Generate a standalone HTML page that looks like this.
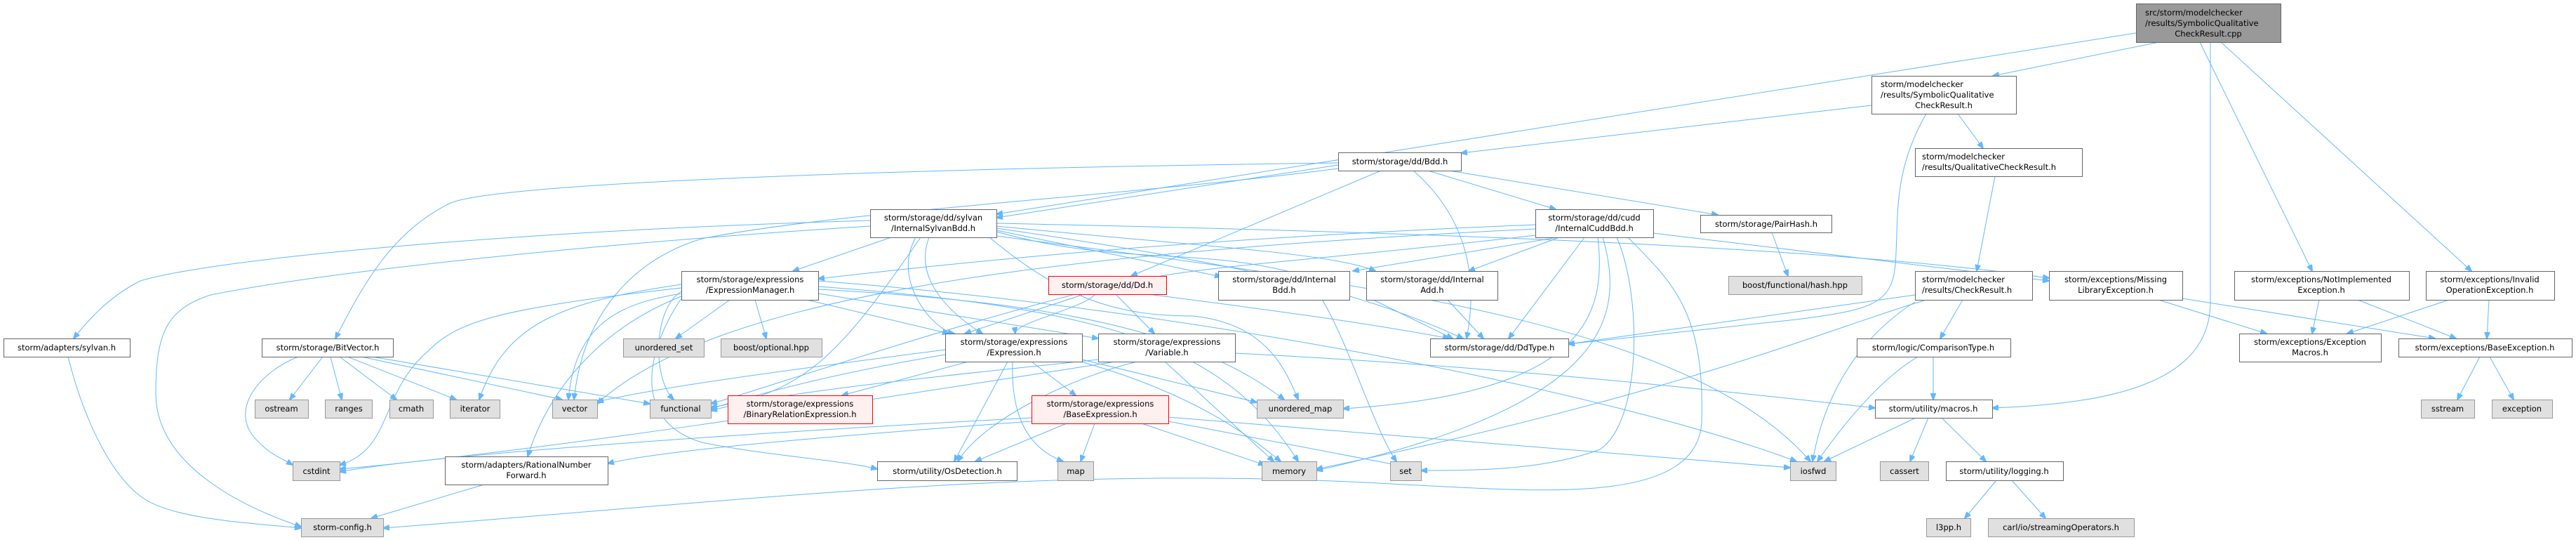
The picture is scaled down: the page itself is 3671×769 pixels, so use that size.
<!DOCTYPE html>
<html><head><meta charset="utf-8"><style>
html,body{margin:0;padding:0;background:#fff;}
svg{display:block;}
text{font-family:"DejaVu Sans","Liberation Sans",sans-serif;font-size:11.5px;fill:#000;}
.w{fill:#fff;stroke:#666;stroke-width:1;}
.g{fill:#e0e0e0;stroke:#999;stroke-width:1;}
.r{fill:#fff0f0;stroke:#f00;stroke-width:1;}
.d{fill:#999;stroke:#666;stroke-width:1;}
path{fill:none;stroke:#63b8ff;stroke-width:1;marker-end:url(#a);}
</style></head><body>
<svg width="3671" height="769" viewBox="0 0 3671 769" xmlns="http://www.w3.org/2000/svg">
<defs><marker id="a" markerWidth="10" markerHeight="8" refX="9" refY="4" orient="auto" markerUnits="userSpaceOnUse"><path d="M0,0 L10,4 L0,8 z" style="fill:#63b8ff;stroke:#63b8ff;marker-end:none"/></marker></defs>

<g>
<path d="M3044,47 L1420,305"/>
<path d="M3077,60 L2840,108"/>
<path d="M3150,60 L3150,430 C3150,545 3010,575 2839,581"/>
<path d="M3135,60 L3295,386"/>
<path d="M3165,60 L3522,386"/>
<path d="M2667,150 L2082,218"/>
<path d="M2790,162 L2826,211"/>
<path d="M2745,162 C2700,240 2705,300 2702,360 C2700,430 2680,440 2560,455 L2235,490"/>
<path d="M2843,251 L2817,386"/>
<path d="M2797,427 L2765,482"/>
<path d="M2729,420 L2235,490"/>
<path d="M2745,427 C2600,470 2400,560 1876,668"/>
<path d="M2729,430 C2650,480 2600,560 2583,657"/>
<path d="M2755,508 L2755,569"/>
<path d="M2733,508 C2680,540 2630,600 2590,657"/>
<path d="M2730,595 L2600,657"/>
<path d="M2748,595 L2722,657"/>
<path d="M2767,595 L2830,657"/>
<path d="M2845,684 L2800,738"/>
<path d="M2867,684 L2915,738"/>
<path d="M3076,427 L3230,475"/>
<path d="M3110,425 L3470,482"/>
<path d="M3305,427 L3295,475"/>
<path d="M3360,427 L3500,482"/>
<path d="M3490,427 L3345,475"/>
<path d="M3547,427 L3544,482"/>
<path d="M3534,508 L3502,569"/>
<path d="M3548,508 L3582,569"/>
<path d="M1907,235 L1420,310"/>
<path d="M1968,243 L1612,393"/>
<path d="M2035,243 L2217,298"/>
<path d="M2065,243 L2448,306"/>
<path d="M2014,243 C2080,300 2110,380 2090,482"/>
<path d="M1907,232 C1300,240 700,260 640,290 C560,330 520,400 478,482"/>
<path d="M1907,240 C1600,280 1200,300 1000,340 C900,370 830,450 818,569"/>
<path d="M2525,331 L2548,393"/>
<path d="M2188,320 C1700,340 1400,370 1166,397"/>
<path d="M2220,338 L1928,386"/>
<path d="M2222,338 L2093,386"/>
<path d="M2258,338 L2150,482"/>
<path d="M2277,338 C2290,450 2260,560 1914,582"/>
<path d="M2284,338 C2320,460 2280,580 1876,670"/>
<path d="M2304,338 C2340,420 2340,600 2280,640 C2200,670 2100,670 2025,670"/>
<path d="M2320,338 C2380,400 2430,440 2425,600 C2420,720 2200,700 2000,690 C1500,660 1100,710 546,752"/>
<path d="M2356,332 L2920,400"/>
<path d="M2188,335 C1800,380 1640,380 1560,420 C1540,440 1445,460 1447,475"/>
<path d="M2188,326 C1500,360 1020,420 851,575"/>
<path d="M1270,338 L1130,386"/>
<path d="M1324,338 C1300,400 1360,450 1400,475"/>
<path d="M1240,314 C700,330 300,370 200,400 C160,420 130,450 105,482"/>
<path d="M1240,322 C800,350 450,390 300,420 C240,440 222,470 222,560 C222,660 340,720 429,750"/>
<path d="M1312,338 C1200,500 1150,560 1013,580"/>
<path d="M1305,338 C1270,400 1330,470 1360,475"/>
<path d="M1420,328 L1740,394"/>
<path d="M1420,322 C1700,350 1900,360 1960,386"/>
<path d="M1420,325 C1800,380 1950,420 2085,482"/>
<path d="M1420,330 C1600,380 1700,350 1850,390 C1900,410 1950,600 1990,657"/>
<path d="M1410,338 C1520,430 1600,450 1700,450 C1800,460 1830,520 1850,569"/>
<path d="M1420,336 C1900,400 2400,450 2580,657"/>
<path d="M1420,318 C2000,330 2600,350 2920,396"/>
<path d="M1040,427 L963,482"/>
<path d="M1076,427 L1092,482"/>
<path d="M1150,427 L1352,475"/>
<path d="M1166,418 L1565,482"/>
<path d="M971,418 C900,430 820,450 810,569"/>
<path d="M971,410 C700,440 650,460 610,500 C540,560 560,640 484,662"/>
<path d="M971,405 C800,430 720,460 683,569"/>
<path d="M971,415 C930,440 930,540 960,569"/>
<path d="M971,422 C850,470 780,560 752,650"/>
<path d="M1166,412 C1500,430 1700,470 1830,569"/>
<path d="M1166,408 C1600,440 1750,500 1850,657"/>
<path d="M1166,400 C1700,440 2300,560 2560,657"/>
<path d="M971,425 C920,500 900,600 1000,630 C1100,650 1200,655 1250,668"/>
<path d="M1545,419 L1375,475"/>
<path d="M1590,419 L1645,475"/>
<path d="M1636,419 C1800,440 1950,460 2065,482"/>
<path d="M1532,419 C1300,480 1100,550 1013,575"/>
<path d="M1380,515 L1200,563"/>
<path d="M1470,515 L1533,563"/>
<path d="M1436,515 L1360,657"/>
<path d="M1443,515 C1440,600 1470,640 1515,657"/>
<path d="M1540,515 C1700,560 1780,620 1825,657"/>
<path d="M1347,505 C1200,530 1100,555 1013,582"/>
<path d="M1347,498 C1100,530 950,550 851,572"/>
<path d="M1542,512 L1791,573"/>
<path d="M1660,515 L1815,657"/>
<path d="M1620,515 C1520,540 1400,600 1365,657"/>
<path d="M1565,512 C1300,540 1100,560 1013,585"/>
<path d="M1760,503 C2100,520 2400,550 2672,581"/>
<path d="M1590,515 C1300,560 800,640 484,668"/>
<path d="M1470,595 C1000,620 600,650 484,672"/>
<path d="M1470,600 C1200,620 950,640 866,660"/>
<path d="M1520,603 L1390,657"/>
<path d="M1560,603 L1540,657"/>
<path d="M1627,603 L1802,662"/>
<path d="M1665,600 L1995,663"/>
<path d="M1665,594 L2551,666"/>
<path d="M690,690 L529,738"/>
<path d="M97,508 C120,600 160,680 205,710 C250,740 360,745 429,752"/>
<path d="M425,508 C370,530 330,580 360,620 C380,645 400,652 417,662"/>
<path d="M460,508 L413,569"/>
<path d="M471,508 L487,569"/>
<path d="M484,508 L565,569"/>
<path d="M495,508 L650,569"/>
<path d="M515,508 L801,569"/>
<path d="M530,508 L926,575"/>
<path d="M1957,427 L2070,482"/>
<path d="M2063,427 L2114,482"/>
</g>

<g>
<rect class="d" x="3044.5" y="5.5" width="206" height="55"/>
<text x="3057" y="22">src/storm/modelchecker</text><text x="3057" y="37">/results/SymbolicQualitative</text><text x="3147" y="52" text-anchor="middle">CheckResult.cpp</text>

<rect class="w" x="2667.5" y="108.5" width="206" height="54"/>
<text x="2680" y="124">storm/modelchecker</text><text x="2680" y="139">/results/SymbolicQualitative</text><text x="2770" y="154" text-anchor="middle">CheckResult.h</text>

<rect class="w" x="2729.5" y="211.5" width="238" height="40"/>
<text x="2739" y="227">storm/modelchecker</text><text x="2739" y="242">/results/QualitativeCheckResult.h</text>

<rect class="w" x="2729.5" y="386.5" width="167" height="41"/>
<text x="2739" y="402">storm/modelchecker</text><text x="2739" y="417">/results/CheckResult.h</text>

<rect class="w" x="2920.5" y="386.5" width="190" height="41"/>
<text x="3015" y="402" text-anchor="middle">storm/exceptions/Missing</text><text x="3015" y="417" text-anchor="middle">LibraryException.h</text>

<rect class="w" x="3184.5" y="386.5" width="249" height="41"/>
<text x="3308" y="402" text-anchor="middle">storm/exceptions/NotImplemented</text><text x="3308" y="417" text-anchor="middle">Exception.h</text>

<rect class="w" x="3457.5" y="386.5" width="183" height="41"/>
<text x="3548" y="402" text-anchor="middle">storm/exceptions/Invalid</text><text x="3548" y="417" text-anchor="middle">OperationException.h</text>

<rect class="w" x="3191.5" y="475.5" width="202" height="40"/>
<text x="3292" y="491" text-anchor="middle">storm/exceptions/Exception</text><text x="3292" y="506" text-anchor="middle">Macros.h</text>

<rect class="w" x="3418.5" y="482.5" width="247" height="26"/><text x="3541" y="499" text-anchor="middle">storm/exceptions/BaseException.h</text>
<rect class="g" x="3450.5" y="569.5" width="76" height="26"/><text x="3488" y="586" text-anchor="middle">sstream</text>
<rect class="g" x="3551.5" y="569.5" width="86" height="26"/><text x="3594" y="586" text-anchor="middle">exception</text>

<rect class="w" x="2646.5" y="482.5" width="219" height="26"/><text x="2755" y="499" text-anchor="middle">storm/logic/ComparisonType.h</text>
<rect class="w" x="2672.5" y="569.5" width="167" height="26"/><text x="2755" y="586" text-anchor="middle">storm/utility/macros.h</text>
<rect class="g" x="2679.5" y="657.5" width="69" height="27"/><text x="2714" y="675" text-anchor="middle">cassert</text>
<rect class="w" x="2773.5" y="657.5" width="167" height="27"/><text x="2856" y="675" text-anchor="middle">storm/utility/logging.h</text>
<rect class="g" x="2745.5" y="738.5" width="63" height="26"/><text x="2777" y="755" text-anchor="middle">l3pp.h</text>
<rect class="g" x="2833.5" y="738.5" width="208" height="26"/><text x="2937" y="755" text-anchor="middle">carl/io/streamingOperators.h</text>
<rect class="g" x="2551.5" y="657.5" width="65" height="27"/><text x="2584" y="675" text-anchor="middle">iosfwd</text>

<rect class="w" x="1907.5" y="217.5" width="175" height="26"/><text x="1995" y="234" text-anchor="middle">storm/storage/dd/Bdd.h</text>
<rect class="w" x="2188.5" y="298.5" width="168" height="40"/>
<text x="2272" y="314" text-anchor="middle">storm/storage/dd/cudd</text><text x="2272" y="329" text-anchor="middle">/InternalCuddBdd.h</text>
<rect class="w" x="2423.5" y="306.5" width="187" height="25"/><text x="2517" y="323" text-anchor="middle">storm/storage/PairHash.h</text>
<rect class="g" x="2463.5" y="393.5" width="190" height="26"/><text x="2558" y="410" text-anchor="middle">boost/functional/hash.hpp</text>
<rect class="w" x="1736.5" y="386.5" width="187" height="41"/>
<text x="1830" y="402" text-anchor="middle">storm/storage/dd/Internal</text><text x="1830" y="417" text-anchor="middle">Bdd.h</text>
<rect class="w" x="1947.5" y="386.5" width="187" height="41"/>
<text x="2041" y="402" text-anchor="middle">storm/storage/dd/Internal</text><text x="2041" y="417" text-anchor="middle">Add.h</text>
<rect class="w" x="2038.5" y="482.5" width="197" height="26"/><text x="2137" y="499" text-anchor="middle">storm/storage/dd/DdType.h</text>
<rect class="g" x="1981.5" y="657.5" width="44" height="27"/><text x="2003" y="675" text-anchor="middle">set</text>
<rect class="g" x="1798.5" y="657.5" width="78" height="27"/><text x="1837" y="675" text-anchor="middle">memory</text>
<rect class="g" x="1791.5" y="569.5" width="123" height="26"/><text x="1853" y="586" text-anchor="middle">unordered_map</text>

<rect class="w" x="1240.5" y="298.5" width="180" height="40"/>
<text x="1330" y="314" text-anchor="middle">storm/storage/dd/sylvan</text><text x="1330" y="329" text-anchor="middle">/InternalSylvanBdd.h</text>
<rect class="w" x="971.5" y="386.5" width="195" height="41"/>
<text x="1069" y="402" text-anchor="middle">storm/storage/expressions</text><text x="1069" y="417" text-anchor="middle">/ExpressionManager.h</text>
<rect class="r" x="1494.5" y="393.5" width="168" height="26"/><text x="1578" y="410" text-anchor="middle">storm/storage/dd/Dd.h</text>
<rect class="w" x="1347.5" y="475.5" width="195" height="40"/>
<text x="1445" y="491" text-anchor="middle">storm/storage/expressions</text><text x="1445" y="506" text-anchor="middle">/Expression.h</text>
<rect class="w" x="1565.5" y="475.5" width="195" height="40"/>
<text x="1663" y="491" text-anchor="middle">storm/storage/expressions</text><text x="1663" y="506" text-anchor="middle">/Variable.h</text>
<rect class="r" x="1037.5" y="563.5" width="206" height="40"/>
<text x="1140" y="579" text-anchor="middle">storm/storage/expressions</text><text x="1140" y="594" text-anchor="middle">/BinaryRelationExpression.h</text>
<rect class="r" x="1470.5" y="563.5" width="195" height="40"/>
<text x="1568" y="579" text-anchor="middle">storm/storage/expressions</text><text x="1568" y="594" text-anchor="middle">/BaseExpression.h</text>
<rect class="w" x="1250.5" y="657.5" width="199" height="27"/><text x="1350" y="675" text-anchor="middle">storm/utility/OsDetection.h</text>
<rect class="g" x="1507.5" y="657.5" width="51" height="27"/><text x="1533" y="675" text-anchor="middle">map</text>
<rect class="g" x="926.5" y="569.5" width="87" height="26"/><text x="970" y="586" text-anchor="middle">functional</text>
<rect class="g" x="888.5" y="482.5" width="115" height="26"/><text x="946" y="499" text-anchor="middle">unordered_set</text>
<rect class="g" x="1027.5" y="482.5" width="144" height="26"/><text x="1099" y="499" text-anchor="middle">boost/optional.hpp</text>

<rect class="w" x="5.5" y="482.5" width="180" height="26"/><text x="95" y="499" text-anchor="middle">storm/adapters/sylvan.h</text>
<rect class="w" x="373.5" y="482.5" width="187" height="26"/><text x="467" y="499" text-anchor="middle">storm/storage/BitVector.h</text>
<rect class="g" x="363.5" y="569.5" width="76" height="26"/><text x="401" y="586" text-anchor="middle">ostream</text>
<rect class="g" x="463.5" y="569.5" width="67" height="26"/><text x="497" y="586" text-anchor="middle">ranges</text>
<rect class="g" x="555.5" y="569.5" width="62" height="26"/><text x="586" y="586" text-anchor="middle">cmath</text>
<rect class="g" x="641.5" y="569.5" width="71" height="26"/><text x="677" y="586" text-anchor="middle">iterator</text>
<rect class="g" x="787.5" y="569.5" width="64" height="26"/><text x="819" y="586" text-anchor="middle">vector</text>
<rect class="g" x="417.5" y="657.5" width="67" height="27"/><text x="451" y="675" text-anchor="middle">cstdint</text>
<rect class="w" x="634.5" y="650.5" width="232" height="40"/>
<text x="750" y="666" text-anchor="middle">storm/adapters/RationalNumber</text><text x="750" y="681" text-anchor="middle">Forward.h</text>
<rect class="g" x="429.5" y="738.5" width="117" height="26"/><text x="488" y="755" text-anchor="middle">storm-config.h</text>
</g>
</svg>
</body></html>
